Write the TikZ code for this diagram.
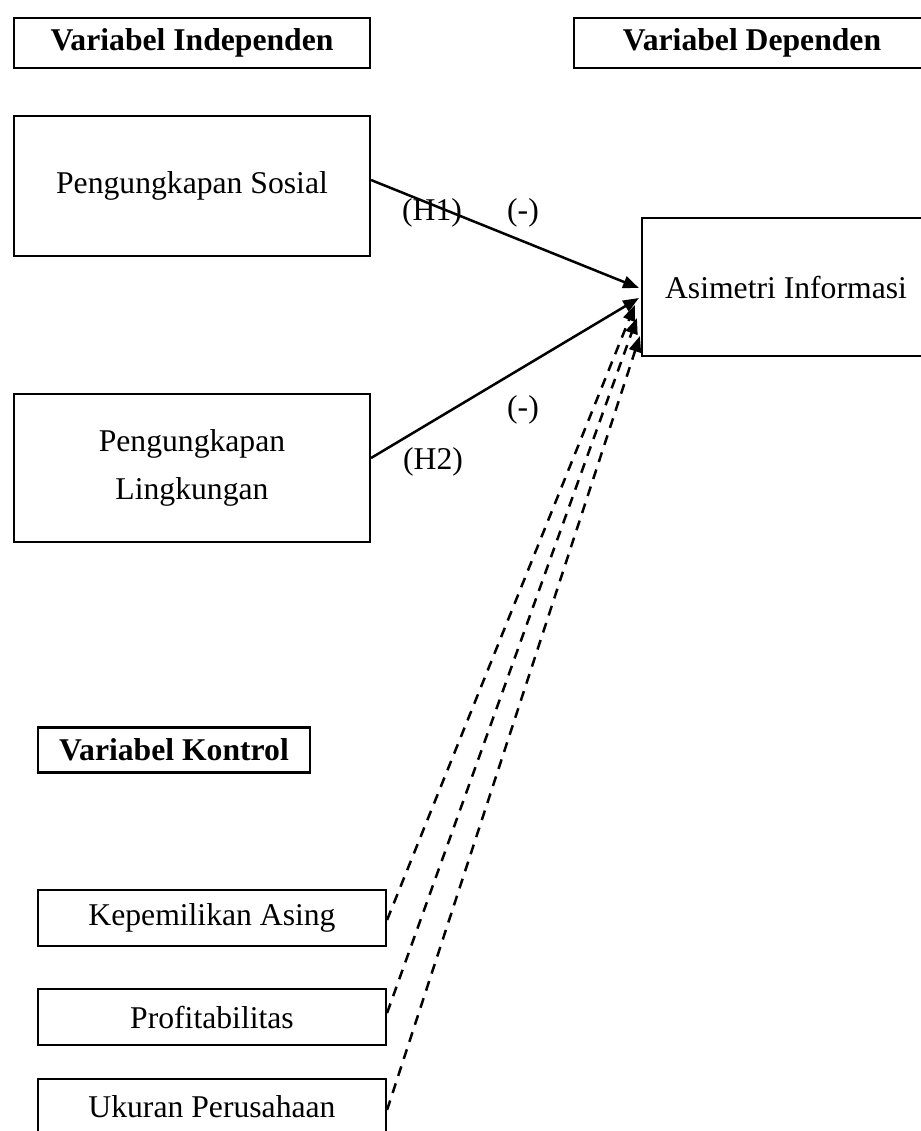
\documentclass[tikz,border=0pt]{standalone}
\usepackage{fontspec}
\setmainfont{Liberation Serif}
\usetikzlibrary{positioning, arrows.meta, calc}
\newcommand{\satuan}{0.379pt}

\begin{document}
\begin{tikzpicture}[x=\satuan, y=-\satuan, font=\fontsize{12}{18}\selectfont,
    >={Triangle[length=6pt, width=4.6pt]},
    kotak/.style={draw, thick, align=center, inner sep=0pt, minimum width=356*\satuan, minimum height=140*\satuan},
    judul/.style={kotak, font=\fontsize{12}{18}\selectfont\bfseries, minimum height=50*\satuan},
    kontrol/.style={kotak, minimum width=348*\satuan, minimum height=56*\satuan},
    garis/.style={->, line width=0.95pt},
    putus/.style={garis, dash pattern=on 3.8pt off 3pt}]

  \useasboundingbox (0,0) rectangle (921,1131);

  % judul kelompok variabel
  \node[judul] (indep) at (192,43) {Variabel Independen};
  \node[judul] (dep) at (752,43) {Variabel Dependen};
  \node[judul, minimum width=272*\satuan, minimum height=45*\satuan] (vkontrol) at (174,750) {Variabel Kontrol};

  % variabel utama
  \node[kotak] (sosial) at (192,186) {Pengungkapan Sosial};
  \node[kotak, minimum height=148*\satuan] (lingkungan) at (192,468) {Pengungkapan\\Lingkungan};
  \node[kotak, minimum width=288*\satuan, minimum height=138*\satuan] (asimetri) at (786,287) {Asimetri Informasi};

  % variabel kontrol
  \node[kontrol] (asing) at (212,918) {Kepemilikan Asing};
  \node[kontrol] (profit) at (212,1017) {Profitabilitas};
  \node[kontrol] (ukuran) at (212,1107) {Ukuran Perusahaan};

  % hipotesis
  \draw[garis] ($(sosial.east)+(0,-6)$) -- ($(asimetri.west)+(-2,1)$);
  \draw[garis] ($(lingkungan.east)+(0,-10)$) -- ($(asimetri.west)+(-2,11)$);
  \node (h1) at (432,213) {(H1)};
  \node (neg1) at (523,213) {(-)};
  \node (neg2) at (523,410) {(-)};
  \node (h2) at (433,462) {(H2)};

  % pengaruh variabel kontrol
  \draw[putus] ($(asing.east)+(0,2)$) -- ($(asimetri.west)+(-6,18)$);
  \draw[putus] ($(profit.east)+(0,-4)$) -- ($(asimetri.west)+(-4,31)$);
  \draw[putus] ($(ukuran.east)+(0,3)$) -- ($(asimetri.west)+(-1,49)$);
\end{tikzpicture}
\end{document}
